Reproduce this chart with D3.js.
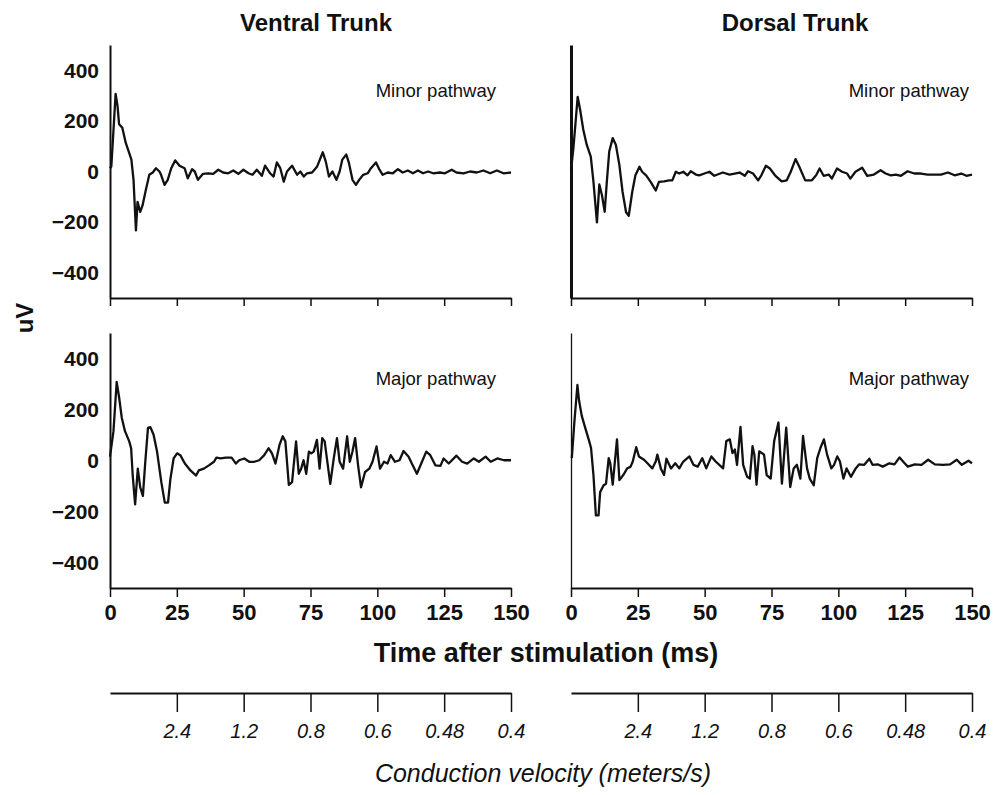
<!DOCTYPE html>
<html>
<head>
<meta charset="utf-8">
<script src="https://cdn.jsdelivr.net/npm/d3@7"></script>
<style>
  body { margin: 0; background: #fff; }
  text { font-family: "Liberation Sans", Arial, Helvetica, sans-serif; fill: #111; }
</style>
</head>
<body>
<div id="chart"></div>
<script>
// Recorded traces, [time (ms), amplitude (uV)]
const ventralMinor = [
  [0,13],[0.5,20],[2.1,307],[2.8,260],[3.4,187],[4.6,173],[5.9,113],[7.2,73],[8.0,47],[8.8,-33],
  [9.7,-233],[10.3,-120],[11.3,-160],[12.2,-133],[13.4,-73],[14.7,-13],[16.0,-4],[17.2,13],[18.5,0],[19.1,-13],
  [20.4,-53],[21.6,-33],[22.9,13],[24.4,44],[26.0,23],[27.9,13],[29.1,-27],[30.7,9],[31.7,0],[32.9,-33],
  [34.8,-9],[36.7,-7],[38.6,-9],[40.5,7],[42.3,-4],[44.2,-7],[46.1,4],[48.0,-9],[49.9,7],[51.8,-7],
  [53.3,-13],[54.9,7],[56.8,-17],[58.0,23],[59.9,-7],[61.2,-20],[62.4,36],[63.7,13],[65.0,-40],[66.2,0],
  [68.1,23],[70.0,-13],[71.2,0],[72.5,-20],[73.7,-7],[75.6,-4],[77.5,20],[79.6,76],[80.7,40],[81.9,-20],
  [83.2,0],[84.7,-33],[85.9,0],[86.9,47],[88.4,67],[89.4,33],[90.7,-33],[92.0,-53],[93.2,-33],[94.7,-13],
  [96.4,-7],[97.6,13],[99.5,36],[100.8,7],[102.0,-13],[103.9,-4],[105.8,-7],[107.7,9],[109.5,-4],[111.4,4],
  [113.3,-7],[115.2,4],[117.1,-7],[119.0,0],[120.9,-7],[123.4,-4],[125.3,-7],[127.8,7],[129.6,-4],[132.2,-7],
  [134.7,0],[137.2,-4],[139.7,4],[142.2,-7],[144.7,4],[147.2,-7],[150,-4]
];
const dorsalMinor = [
  [0,5],[0.9,92],[2.5,295],[3.4,245],[4.6,165],[5.9,105],[7.4,59],[8.4,-41],[9.7,-201],[10.6,-51],
  [11.6,-95],[12.6,-159],[13.4,-41],[14.3,79],[15.6,132],[16.8,105],[18.1,25],[19.3,-81],[20.6,-161],[21.6,-175],
  [22.9,-81],[24.1,-15],[25.6,19],[26.6,-1],[28.1,-15],[29.8,-41],[31.7,-75],[32.9,-41],[34.8,-39],[36.7,-35],
  [37.9,-35],[39.2,-1],[40.5,-8],[42.0,-1],[43.6,-15],[44.8,1],[46.7,-12],[48.0,-15],[49.9,-8],[51.8,-1],
  [53.6,-17],[56.8,-4],[59.3,-12],[63.1,-4],[65.0,-17],[66.2,1],[68.1,-8],[70.0,-35],[71.2,-15],[72.9,23],
  [74.4,12],[76.3,-15],[78.8,-39],[80.7,-35],[82.2,-1],[84.0,49],[85.4,19],[87.6,-35],[90.1,-35],[91.7,-15],
  [93.0,12],[94.5,-17],[96.4,-12],[97.6,-28],[99.5,12],[101.4,-1],[103.3,-8],[104.5,-28],[106.4,-1],[108.9,15],
  [110.8,-17],[113.3,-12],[115.8,5],[117.7,-8],[119.6,-15],[121.5,-12],[123.4,-17],[125.9,1],[128.4,-8],[130.9,-8],
  [133.4,-12],[135.9,-12],[138.4,-12],[141.0,-4],[143.5,-15],[146.0,-8],[147.9,-17],[150,-12]
];
const ventralMajor = [
  [0,15],[1.3,115],[2.5,308],[3.4,248],[4.4,168],[5.6,115],[7.2,75],[7.9,48],[8.5,-59],[9.4,-172],
  [10.4,-32],[11.3,-105],[12.3,-139],[13.2,-5],[14.2,128],[15.1,131],[16.3,101],[17.6,35],[19.2,-85],[20.5,-165],
  [21.7,-165],[22.6,-72],[23.8,8],[25.1,28],[26.3,21],[28.0,-12],[30.1,-39],[32.2,-59],[33.2,-39],[35.1,-32],
  [37.0,-19],[38.9,-5],[39.8,11],[41.4,8],[43.3,11],[45.5,11],[47.1,-12],[48.3,1],[50.2,8],[52.1,-5],
  [54.0,-5],[55.8,1],[57.7,21],[59.3,48],[60.6,28],[61.9,-12],[63.4,61],[64.6,95],[65.6,75],[66.9,-96],
  [68.1,-85],[69.6,75],[70.6,-52],[71.5,-32],[72.4,1],[73.4,-52],[74.4,35],[75.3,28],[76.2,35],[77.4,81],
  [78.4,-32],[79.4,88],[80.3,75],[81.3,-5],[82.4,-92],[83.7,8],[84.9,88],[85.9,-5],[87.2,-32],[88.7,95],
  [89.7,-5],[90.7,35],[91.7,88],[92.8,-19],[93.9,-105],[95.4,-45],[97.0,-32],[98.2,-5],[99.7,55],[101.0,-32],
  [102.5,-5],[103.8,-12],[105.0,21],[106.6,-5],[108.3,1],[109.8,37],[111.7,15],[112.9,-12],[114.8,-52],[116.7,-5],
  [118.3,35],[119.8,21],[121.7,-19],[123.6,-21],[124.8,8],[126.7,-12],[129.6,19],[131.7,-5],[133.6,-12],[136.1,8],
  [138.0,-5],[140.5,15],[142.4,-5],[144.9,8],[147.4,1],[150,1]
];
const dorsalMajor = [
  [0.3,9],[1.3,156],[2.4,296],[3.0,236],[4.0,176],[5.3,129],[6.8,76],[7.5,49],[8.4,-57],[9.3,-215],
  [10.3,-215],[10.9,-124],[12.2,-97],[13.1,-91],[14.1,9],[14.7,-11],[15.6,-95],[17.2,83],[18.1,-77],[19.7,-55],
  [21.0,-31],[22.3,-24],[23.1,-4],[24.4,52],[25.4,16],[27.3,3],[28.6,-11],[30.4,-31],[31.7,-4],[32.3,23],
  [33.6,-31],[34.8,-57],[35.7,7],[37.4,-31],[39.0,-11],[40.5,-31],[42.0,-4],[44.3,16],[45.8,-17],[47.4,-24],
  [49.1,9],[50.6,-31],[52.5,16],[54.1,-4],[56.9,-31],[58.1,76],[59.4,83],[60.4,29],[61.3,43],[62.1,-17],
  [63.4,132],[64.4,-17],[65.9,-64],[66.9,-71],[67.9,56],[68.6,23],[69.4,-95],[70.4,36],[72.2,23],[73.2,-57],
  [74.7,-71],[76.0,76],[77.6,149],[78.9,-91],[80.5,129],[82.0,-104],[83.3,-31],[84.5,-17],[85.8,-71],[86.8,96],
  [88.3,-31],[89.3,-71],[90.8,-97],[92.1,9],[93.3,49],[94.6,83],[95.8,23],[97.4,-31],[98.4,-17],[99.6,16],
  [100.6,-4],[101.9,-71],[103.1,-31],[104.7,-64],[106.5,-31],[107.8,-15],[109.7,-17],[111.6,7],[112.8,-17],[114.7,-15],
  [116.6,-24],[119.1,-11],[121.0,-15],[122.9,12],[124.8,-11],[126.0,-24],[128.6,-15],[131.1,-17],[133.6,3],[136.1,-15],
  [139.2,-17],[141.8,-15],[144.3,3],[146.2,-17],[148.7,-1],[150,-11]
];

const trunkTitles = ["Ventral Trunk", "Dorsal Trunk"];
const pathwayLabels = ["Minor pathway", "Major pathway"];
const timeTicks = [0, 25, 50, 75, 100, 125, 150];
const voltTicks = [400, 200, 0, -200, -400];
const velocityTicks = [2.4, 1.2, 0.8, 0.6, 0.48, 0.4];

// conduction distance (mm): velocity (m/s) = distance / time (ms)
const CONDUCTION_DISTANCE = 60;

const WIDTH = 1008;
const HEIGHT = 795;
const COLUMN_X = [110, 571];
const COLUMN_WIDTH = 401;
const ROW_Y = [[298, 45], [588, 333]];
const Y_DOMAIN = [-500, 500];
const FONT = "'Liberation Sans', Arial, sans-serif";

const svg = d3.select("#chart")
    .append("svg")
    .attr("width", WIDTH)
    .attr("height", HEIGHT);

const panels = [
    { data: ventralMinor, col: 0, row: 0, label: pathwayLabels[0], axisWidth: 2 },
    { data: dorsalMinor, col: 1, row: 0, label: pathwayLabels[0], axisWidth: 3 },
    { data: ventralMajor, col: 0, row: 1, label: pathwayLabels[1], axisWidth: 2 },
    { data: dorsalMajor, col: 1, row: 1, label: pathwayLabels[1], axisWidth: 1.3 }
];

const xScales = COLUMN_X.map(x0 => d3.scaleLinear()
    .domain([0, 150])
    .range([x0, x0 + COLUMN_WIDTH]));

panels.forEach(p => {
    const x = xScales[p.col];
    const y = d3.scaleLinear().domain(Y_DOMAIN).range(ROW_Y[p.row]);
    const g = svg.append("g");

    // x axis: ticks pointing down, labels only on the lower row
    const xAxis = g.append("g")
        .attr("transform", `translate(0,${y.range()[0]})`)
        .call(d3.axisBottom(x)
            .tickValues(timeTicks)
            .tickSize(p.row === 0 ? 8 : 9)
            .tickSizeOuter(0)
            .tickPadding(7)
            .tickFormat(p.row === 0 ? "" : d3.format("d")));
    xAxis.select(".domain").attr("stroke-width", 2).attr("stroke", "#111");
    xAxis.selectAll(".tick line").attr("stroke-width", 1.5).attr("stroke", "#111");
    xAxis.selectAll(".tick text")
        .style("font", `bold 22px ${FONT}`)
        .attr("fill", "#111");

    // y axis: bare line, labels only in the left column
    const yAxis = g.append("g")
        .attr("transform", `translate(${x.range()[0]},0)`)
        .call(d3.axisLeft(y)
            .tickValues(voltTicks)
            .tickSize(0)
            .tickSizeOuter(0)
            .tickPadding(11)
            .tickFormat(p.col === 0 ? d3.format("d") : ""));
    yAxis.select(".domain").attr("stroke-width", p.axisWidth).attr("stroke", "#111");
    yAxis.selectAll(".tick text").style("font", `bold 21px ${FONT}`).attr("fill", "#111");

    g.append("path")
        .datum(p.data)
        .attr("fill", "none")
        .attr("stroke", "#111")
        .attr("stroke-width", 2.3)
        .attr("stroke-linejoin", "round")
        .attr("d", d3.line()
            .x(d => x(d[0]))
            .y(d => y(d[1])));

    g.append("text")
        .attr("text-anchor", "end")
        .attr("x", x.range()[1] - (p.col === 0 ? 15 : 3))
        .attr("y", y.range()[1] + 52)
        .style("font-size", "18.5px")
        .text(p.label);
});

// Column titles
[316, 795].forEach((cx, i) => {
    svg.append("text")
        .attr("text-anchor", "middle")
        .attr("x", cx)
        .attr("y", 31)
        .style("font", `bold 24px ${FONT}`)
        .text(trunkTitles[i]);
});

// Shared y label
svg.append("text")
    .attr("text-anchor", "middle")
    .attr("transform", "translate(33,318) rotate(-90)")
    .style("font", `bold 24px ${FONT}`)
    .text("uV");

svg.append("text")
    .attr("text-anchor", "middle")
    .attr("x", 546)
    .attr("y", 662)
    .style("font", `bold 27px ${FONT}`)
    .text("Time after stimulation (ms)");

// Conduction velocity axes share the time scale: t = distance / v
xScales.forEach(x => {
    const cv = svg.append("g")
        .attr("transform", "translate(0,693)")
        .call(d3.axisBottom(x)
            .tickValues(velocityTicks.map(v => CONDUCTION_DISTANCE / v))
            .tickSize(19)
            .tickSizeOuter(0)
            .tickPadding(12)
            .tickFormat(t => d3.format("")(+(CONDUCTION_DISTANCE / t).toFixed(2))));
    cv.select(".domain").attr("stroke-width", 2).attr("stroke", "#111");
    cv.selectAll(".tick line").attr("stroke-width", 1.5).attr("stroke", "#111");
    cv.selectAll(".tick text")
        .style("font", `italic 20px ${FONT}`)
        .attr("fill", "#111");
});

svg.append("text")
    .attr("text-anchor", "middle")
    .attr("x", 543)
    .attr("y", 782)
    .style("font", `italic 25px ${FONT}`)
    .text("Conduction velocity (meters/s)");
</script>
</body>
</html>
